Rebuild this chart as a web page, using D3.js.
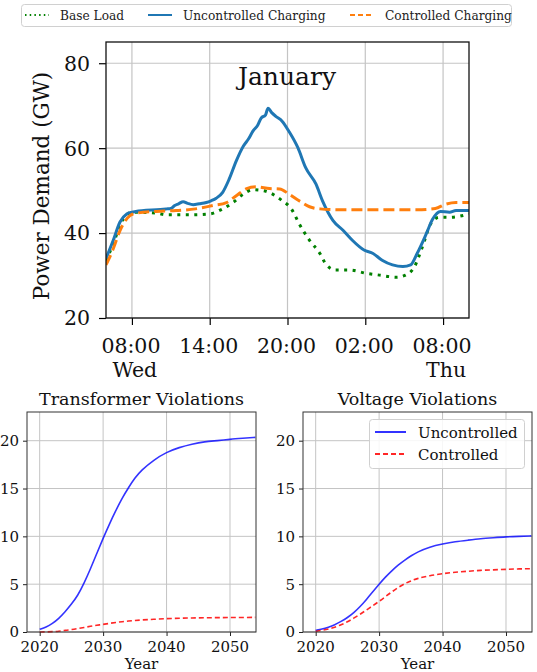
<!DOCTYPE html>
<html>
<head>
<meta charset="utf-8">
<script src="https://cdn.jsdelivr.net/npm/d3@7"></script>
<style>
  body { margin: 0; background: #fff; }
  svg { display: block; font-family: "DejaVu Serif", serif; }
</style>
</head>
<body>
<svg id="chart" width="537" height="672"></svg>
<script>
// hours after 06:00 Wed
var uncHours = [0, 0.56, 1.08, 1.6, 2, 2.5, 3.1, 3.9, 4.67, 5.0, 5.3, 5.6, 5.95, 6.3, 6.72, 7.2, 7.74, 8.1, 8.5, 9.0, 9.5, 10.05, 10.6, 11.0, 11.33, 11.7, 11.97, 12.3, 12.5, 12.8, 13.1, 13.6, 14.1, 14.8, 15.4, 16.2, 16.7, 17.5, 18.3, 19.0, 19.9, 20.6, 21.3, 22.1, 22.9, 23.5, 24.0, 24.7, 25.2, 25.8, 26.5, 27.0, 28];
var uncValues = [34.0, 38.3, 42.6, 44.5, 44.9, 45.2, 45.4, 45.5, 45.7, 45.8, 46.5, 46.9, 47.4, 47.0, 46.7, 46.9, 47.2, 47.6, 48.2, 49.6, 52.7, 57.0, 60.5, 62.2, 64.0, 65.4, 67.1, 67.8, 69.4, 68.3, 67.5, 66.3, 64.0, 60.1, 55.4, 51.5, 47.6, 43.0, 40.6, 38.3, 36.0, 35.2, 33.6, 32.5, 32.1, 32.5, 35.2, 39.8, 43.3, 45.1, 44.9, 45.3, 45.3];

var baseHours = [0, 0.6, 1.1, 1.6, 2, 3.9, 4.67, 6.5, 8.0, 9.0, 9.8, 10.6, 11.3, 12.1, 12.7, 13.6, 14.3, 14.9, 15.7, 16.5, 17.0, 17.7, 18.8, 20.1, 21.1, 22.4, 23.1, 23.8, 24.4, 25.05, 25.7, 26.5, 28];
var baseValues = [33.5, 37.8, 42.0, 44.3, 44.9, 44.7, 44.3, 44.3, 44.5, 45.7, 47.2, 49.2, 50.2, 50.0, 49.4, 47.6, 45.7, 42.2, 38.3, 35.2, 32.5, 31.3, 31.3, 30.5, 30.1, 29.6, 30.1, 32.1, 36.7, 42.2, 43.7, 43.7, 44.5];

var ctrlHours = [0, 0.56, 1.08, 1.85, 2.36, 3.9, 5.4, 6.9, 8.26, 9.3, 10.05, 10.8, 11.6, 12.6, 13.4, 14.1, 14.9, 15.7, 16.5, 18, 20, 22, 24, 25.4, 26.2, 27, 28];
var ctrlValues = [32.5, 36.3, 40.6, 44.1, 44.7, 45.1, 45.3, 45.7, 46.5, 47.2, 48.8, 50.4, 50.9, 50.5, 50.4, 49.2, 47.6, 46.2, 45.7, 45.5, 45.5, 45.5, 45.5, 45.8, 46.8, 47.2, 47.2];

var hourTicks = [2, 8, 14, 20, 26];
var hourTickLabels = ["08:00", "14:00", "20:00", "02:00", "08:00"];
var dayLabels = ["Wed", "", "", "", "Thu"];
var powerTicks = [20, 40, 60, 80];

var years = [2020, 2021, 2022, 2023, 2024, 2025, 2026, 2027, 2028, 2029, 2030, 2031, 2032, 2033, 2034, 2035, 2036, 2038, 2040, 2042, 2044, 2046, 2048, 2050, 2052, 2054];
var trafoUnc = [0.28, 0.5, 0.87, 1.4, 2.1, 2.9, 3.8, 5.1, 6.6, 8.2, 9.8, 11.3, 12.7, 14.0, 15.1, 16.1, 16.9, 18.0, 18.8, 19.3, 19.65, 19.9, 20.0, 20.15, 20.25, 20.35];
var trafoCtrl = [0.0, 0.01, 0.03, 0.08, 0.17, 0.25, 0.35, 0.47, 0.6, 0.7, 0.8, 0.9, 1.0, 1.08, 1.15, 1.2, 1.26, 1.33, 1.4, 1.44, 1.47, 1.49, 1.5, 1.51, 1.52, 1.53];
var voltUnc = [0.17, 0.3, 0.5, 0.75, 1.1, 1.5, 2.0, 2.65, 3.4, 4.2, 5.0, 5.75, 6.4, 7.0, 7.5, 7.95, 8.35, 8.9, 9.2, 9.45, 9.6, 9.75, 9.85, 9.95, 10.0, 10.05];
var voltCtrl = [0.07, 0.17, 0.3, 0.5, 0.75, 1.05, 1.45, 1.85, 2.3, 2.75, 3.2, 3.7, 4.2, 4.65, 5.05, 5.35, 5.6, 5.9, 6.1, 6.25, 6.35, 6.45, 6.5, 6.55, 6.6, 6.62];
var yearTicks = [2020, 2030, 2040, 2050];
var violTicks = [0, 5, 10, 15, 20];

var svg = d3.select("#chart");
var gridColor = "#c4c4c4";

// ---------- top chart ----------
var tb = {left: 106, right: 469, top: 42, bottom: 318};
var x = d3.scaleLinear().domain([0, 28]).range([tb.left, tb.right]);
var y = d3.scaleLinear().domain([20, 85]).range([tb.bottom, tb.top]);

svg.append("clipPath").attr("id", "clipTop")
  .append("rect").attr("x", tb.left).attr("y", tb.top)
  .attr("width", tb.right - tb.left).attr("height", tb.bottom - tb.top);

var gTop = svg.append("g");
gTop.selectAll(".vg").data(hourTicks).enter().append("line")
  .attr("x1", d => x(d)).attr("x2", d => x(d))
  .attr("y1", tb.top).attr("y2", tb.bottom)
  .attr("stroke", gridColor).attr("stroke-width", 1.2);
gTop.selectAll(".hg").data(powerTicks).enter().append("line")
  .attr("y1", d => y(d)).attr("y2", d => y(d))
  .attr("x1", tb.left).attr("x2", tb.right)
  .attr("stroke", gridColor).attr("stroke-width", 1.2);

var lineTop = d3.line().x(d => x(d[0])).y(d => y(d[1])).curve(d3.curveMonotoneX);
var lines = gTop.append("g").attr("clip-path", "url(#clipTop)");
lines.append("path").datum(d3.zip(baseHours, baseValues))
  .attr("d", lineTop).attr("fill", "none")
  .attr("stroke", "#008000").attr("stroke-width", 3)
  .attr("stroke-dasharray", "3,5.5");
lines.append("path").datum(d3.zip(uncHours, uncValues))
  .attr("d", lineTop).attr("fill", "none")
  .attr("stroke", "#1f77b4").attr("stroke-width", 3);
lines.append("path").datum(d3.zip(ctrlHours, ctrlValues))
  .attr("d", lineTop).attr("fill", "none")
  .attr("stroke", "#ff7f0e").attr("stroke-width", 3)
  .attr("stroke-dasharray", "11,5");

var xAxisTop = gTop.append("g").attr("transform", "translate(0," + tb.bottom + ")")
  .call(d3.axisBottom(x).tickValues(hourTicks).tickSize(7).tickFormat(""));
var yAxisTop = gTop.append("g").attr("transform", "translate(" + tb.left + ",0)")
  .call(d3.axisLeft(y).tickValues(powerTicks).tickSize(7).tickFormat(""));
[xAxisTop, yAxisTop].forEach(function(a) {
  a.select(".domain").remove();
  a.selectAll("line").attr("stroke", "#000").attr("stroke-width", 1.2);
});
gTop.append("rect").attr("x", tb.left).attr("y", tb.top)
  .attr("width", tb.right - tb.left).attr("height", tb.bottom - tb.top)
  .attr("fill", "none").attr("stroke", "#111").attr("stroke-width", 1.3);

gTop.selectAll(".xl").data(hourTicks).enter().append("text")
  .attr("x", d => x(d) - 1).attr("y", 353).attr("text-anchor", "middle")
  .attr("font-size", 20.5).attr("fill", "#111")
  .text((d, i) => hourTickLabels[i]);
gTop.selectAll(".dl").data(hourTicks).enter().append("text")
  .attr("x", d => x(d) + 3).attr("y", 377).attr("text-anchor", "middle")
  .attr("font-size", 20.5).attr("fill", "#111")
  .text((d, i) => dayLabels[i]);
gTop.selectAll(".yl").data(powerTicks).enter().append("text")
  .attr("x", 90).attr("y", d => y(d)).attr("dy", "0.36em").attr("text-anchor", "end")
  .attr("font-size", 20.5).attr("fill", "#111")
  .text(d => d);
gTop.append("text")
  .attr("transform", "translate(49,186) rotate(-90)")
  .attr("text-anchor", "middle").attr("font-size", 21.5).attr("fill", "#111")
  .text("Power Demand (GW)");
gTop.append("text").attr("x", 287).attr("y", 85).attr("text-anchor", "middle")
  .attr("font-size", 25).attr("fill", "#111").text("January");

// top legend
var leg = svg.append("g");
leg.append("rect").attr("x", 21.5).attr("y", 4.5).attr("width", 490).attr("height", 22)
  .attr("rx", 3).attr("fill", "#fff").attr("stroke", "#d0d0d0");
var legItems = [
  {label: "Base Load", x: 25, color: "#008000", dash: "1.5,3.2", w: 2},
  {label: "Uncontrolled Charging", x: 148, color: "#1f77b4", dash: null, w: 2},
  {label: "Controlled Charging", x: 350, color: "#ff7f0e", dash: "5,3", w: 2}
];
legItems.forEach(function(it) {
  leg.append("line").attr("x1", it.x).attr("x2", it.x + 24).attr("y1", 15).attr("y2", 15)
    .attr("stroke", it.color).attr("stroke-width", it.w)
    .attr("stroke-dasharray", it.dash);
  leg.append("text").attr("x", it.x + 35).attr("y", 19.5).attr("font-size", 12.2)
    .attr("fill", "#222").text(it.label);
});

// ---------- bottom panels ----------
function panel(box, title, unc, ctrl, withLegend) {
  var px = d3.scaleLinear().domain([2018, 2054.1]).range([box.left, box.right]);
  var py = d3.scaleLinear().domain([0, 23]).range([box.bottom, box.top]);
  var g = svg.append("g");
  g.selectAll(".vg").data(yearTicks).enter().append("line")
    .attr("x1", d => px(d)).attr("x2", d => px(d))
    .attr("y1", box.top).attr("y2", box.bottom)
    .attr("stroke", gridColor).attr("stroke-width", 1);
  g.selectAll(".hg").data(violTicks).enter().append("line")
    .attr("y1", d => py(d)).attr("y2", d => py(d))
    .attr("x1", box.left).attr("x2", box.right)
    .attr("stroke", gridColor).attr("stroke-width", 1);

  var ln = d3.line().x(d => px(d[0])).y(d => py(d[1])).curve(d3.curveBasis);
  g.append("path").datum(d3.zip(years, unc)).attr("d", ln).attr("fill", "none")
    .attr("stroke", "#0000ff").attr("stroke-opacity", 0.8).attr("stroke-width", 1.6);
  g.append("path").datum(d3.zip(years, ctrl)).attr("d", ln).attr("fill", "none")
    .attr("stroke", "#ff0000").attr("stroke-opacity", 0.85).attr("stroke-width", 1.6)
    .attr("stroke-dasharray", "5,3");

  var xa = g.append("g").attr("transform", "translate(0," + box.bottom + ")")
    .call(d3.axisBottom(px).tickValues(yearTicks).tickSize(4).tickFormat(""));
  var ya = g.append("g").attr("transform", "translate(" + box.left + ",0)")
    .call(d3.axisLeft(py).tickValues(violTicks).tickSize(4).tickFormat(""));
  [xa, ya].forEach(function(a) {
    a.select(".domain").remove();
    a.selectAll("line").attr("stroke", "#222");
  });
  g.append("rect").attr("x", box.left).attr("y", box.top)
    .attr("width", box.right - box.left).attr("height", box.bottom - box.top)
    .attr("fill", "none").attr("stroke", "#333").attr("stroke-width", 1);

  g.selectAll(".xl").data(yearTicks).enter().append("text")
    .attr("x", d => px(d)).attr("y", 652).attr("text-anchor", "middle")
    .attr("font-size", 15).attr("fill", "#111").text(d => d);
  g.selectAll(".yl").data(violTicks).enter().append("text")
    .attr("x", box.left - 8).attr("y", d => py(d)).attr("dy", "0.36em")
    .attr("text-anchor", "end").attr("font-size", 15).attr("fill", "#111").text(d => d);
  g.append("text").attr("x", (box.left + box.right) / 2).attr("y", 669)
    .attr("text-anchor", "middle").attr("font-size", 15).attr("fill", "#111").text("Year");
  g.append("text").attr("x", (box.left + box.right) / 2).attr("y", 405)
    .attr("text-anchor", "middle").attr("font-size", 17.5).attr("fill", "#111").text(title);

  if (withLegend) {
    var lg = g.append("g");
    lg.append("rect").attr("x", 369.5).attr("y", 419.5).attr("width", 155).attr("height", 49)
      .attr("rx", 3).attr("fill", "#fff").attr("fill-opacity", 0.85).attr("stroke", "#d0d0d0");
    lg.append("line").attr("x1", 375).attr("x2", 406).attr("y1", 432).attr("y2", 432)
      .attr("stroke", "#0000ff").attr("stroke-opacity", 0.8).attr("stroke-width", 2);
    lg.append("line").attr("x1", 375).attr("x2", 406).attr("y1", 454).attr("y2", 454)
      .attr("stroke", "#ff0000").attr("stroke-opacity", 0.85).attr("stroke-width", 2)
      .attr("stroke-dasharray", "5,3");
    lg.append("text").attr("x", 418).attr("y", 437.5).attr("font-size", 15)
      .attr("fill", "#111").text("Uncontrolled");
    lg.append("text").attr("x", 418).attr("y", 459.5).attr("font-size", 15)
      .attr("fill", "#111").text("Controlled");
  }
}

panel({left: 27, right: 256, top: 412, bottom: 632}, "Transformer Violations", trafoUnc, trafoCtrl, false);
panel({left: 303, right: 532, top: 412, bottom: 632}, "Voltage Violations", voltUnc, voltCtrl, true);
</script>
</body>
</html>
